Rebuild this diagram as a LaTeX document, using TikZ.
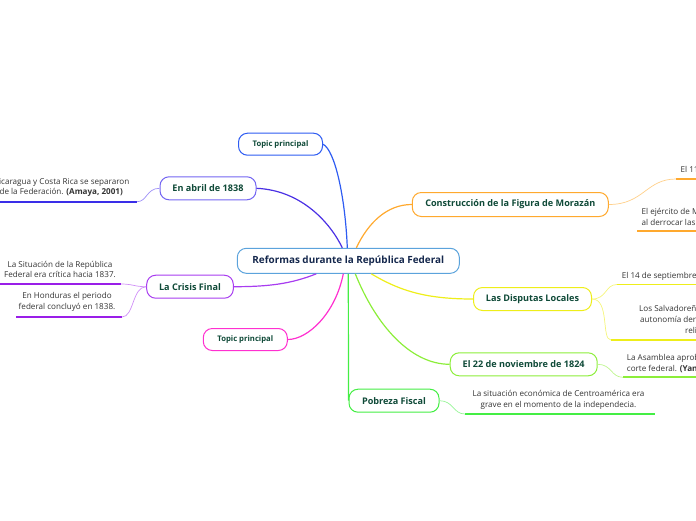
\documentclass[tikz,border=0pt]{standalone}
\usepackage{fontspec}
\setmainfont{Open Sans}
\definecolor{nodegreen}{HTML}{0F4A38}
\definecolor{navy}{HTML}{15284D}
\definecolor{txtgray}{HTML}{333333}
\definecolor{cblue}{HTML}{5BA3DC}
\definecolor{ctop}{HTML}{2E5CF2}
\definecolor{cabril}{HTML}{7466F2}
\definecolor{cabrilline}{HTML}{4A30E4}
\definecolor{cabrilu}{HTML}{3A2EE8}
\definecolor{cabrilt}{HTML}{9E90F7}
\definecolor{ccrisis}{HTML}{A83CF0}
\definecolor{ccrisisu}{HTML}{9A1EE8}
\definecolor{ccrisist}{HTML}{CF8EF7}
\definecolor{cmag}{HTML}{FF30D0}
\definecolor{corange}{HTML}{FFA92E}
\definecolor{corangel}{HTML}{FFD08A}
\definecolor{cyel}{HTML}{EEEE1A}
\definecolor{cyell}{HTML}{F5F57A}
\definecolor{clime}{HTML}{8CEE3A}
\definecolor{climl}{HTML}{BEF58E}
\definecolor{cgreen}{HTML}{44EE44}
\definecolor{cgreenl}{HTML}{96F596}
\begin{document}
\begin{tikzpicture}[x=1pt,y=-1pt,
  topic/.style={draw, rounded corners=9pt, line width=1pt, fill=white, inner sep=0pt,
    minimum height=23pt, font=\fontsize{9.1}{11}\selectfont\bfseries, text=nodegreen},
  smalltopic/.style={topic, minimum height=22pt, font=\fontsize{7.7}{9}\selectfont\bfseries},
  childtext/.style={inner sep=0pt, font=\fontsize{8.1}{10.6}\selectfont, text=txtgray},
  branch/.style={line width=1.2pt},
  twig/.style={line width=0.7pt},
  uline/.style={line width=1.8pt}
]
\useasboundingbox (0,0) rectangle (696,520);

% main nodes
\node[topic, draw=cblue, text=navy, minimum width=222pt, minimum height=25pt,
  font=\fontsize{9.9}{11}\selectfont\bfseries] (central) at (348.3,260.8) {Reformas durante la República Federal};
\node[smalltopic, draw=ctop, minimum width=84pt] (topic1) at (280.5,144.2) {Topic principal};
\node[topic, draw=cabril, minimum width=96pt] (abril) at (208,188.3) {En abril de 1838};
\node[topic, draw=ccrisis, minimum width=86.6pt] (crisis) at (190,286.7) {La Crisis Final};
\node[smalltopic, draw=cmag, minimum width=84pt] (topic2) at (245.3,339.5) {Topic principal};
\node[topic, draw=corange, minimum width=196pt, minimum height=24pt] (constr) at (510.3,204.5) {Construcción de la Figura de Morazán};
\node[topic, draw=cyel, minimum width=118pt] (disp) at (532.5,299) {Las Disputas Locales};
\node[topic, draw=clime, minimum width=147pt] (nov) at (523.7,364.3) {El 22 de noviembre de 1824};
\node[topic, draw=cgreen, minimum width=90pt] (pobreza) at (394,400.7) {Pobreza Fiscal};

% branches from the central topic
\draw[branch, ctop] (topic1.east) .. controls +(12,6) and +(-2,-50) .. ([xshift=-1pt]central.north);
\draw[branch, cabrilline] (abril.east) .. controls +(45,2) and +(-12,-25) .. ([xshift=-6pt]central.north);
\draw[branch, corange] ([xshift=8pt]central.north) .. controls +(12,-25) and +(-25,0) .. (constr.west);
\draw[branch, ccrisis] ([xshift=-32pt]central.south) .. controls +(-25,10) and +(35,0) .. (crisis.east);
\draw[branch, cmag] ([xshift=-5pt]central.south) .. controls +(-8,40) and +(20,0) .. (topic2.east);
\draw[branch, cyel] ([xshift=23pt]central.south) .. controls +(30,18) and +(-45,0) .. (disp.west);
\draw[branch, clime] ([xshift=7pt]central.south) .. controls +(20,50) and +(-40,0) .. (nov.west);
\draw[branch, cgreen] (central.south) -- (pobreza.west);

% En abril de 1838 child
\node[childtext, anchor=east, align=center] (abrilc) at (129.5,187.3)
  {Nicaragua y Costa Rica se separaron\\de la Federación. \textbf{(Amaya, 2001)}};
\coordinate (abrilu0) at (-2,201.7);
\coordinate (abrilu1) at (137,201.7);
\draw[uline, cabrilu] (abrilu0) -- (abrilu1);
\draw[twig, cabrilt] (abril.west) .. controls +(-13,0) and +(10,0) .. (abrilu1);

% La Crisis Final children
\node[childtext, align=center] (crisisc1) at (60,269.3)
  {La Situación de la República\\Federal era crítica hacia 1837.};
\node[childtext, align=center] (crisisc2) at (67,302)
  {En Honduras el periodo\\federal concluyó en 1838.};
\coordinate (cru10) at (-2,284);
\coordinate (cru11) at (121,284);
\coordinate (cru20) at (16,317);
\coordinate (cru21) at (122,317);
\draw[uline, ccrisisu] (cru10) -- (cru11);
\draw[uline, ccrisisu] (cru20) -- (cru21);
\draw[twig, ccrisist] (crisis.west) .. controls +(-12,0) and +(12,0) .. (cru11);
\draw[twig, ccrisist] (crisis.west) .. controls +(-14,0) and +(12,0) .. (cru21);

% Construcción children
\node[childtext, anchor=west] (constrc1) at (680.5,169.5)
  {El 11 de abril de 1829 Morazán tomó la ciudad de Guatemala.};
\node[childtext, anchor=west, align=left] (constrc2) at (641.5,216.7)
  {El ejército de Morazán se fortaleció\\al derrocar las autoridades conservadoras.};
\coordinate (cou10) at (676,179);
\coordinate (cou11) at (700,179);
\coordinate (cou20) at (637,231);
\coordinate (cou21) at (700,231);
\draw[uline, corange] (cou10) -- (cou11);
\draw[uline, corange] (cou20) -- (cou21);
\draw[twig, corangel] (constr.east) .. controls +(35,0) and +(-30,0) .. (cou10);

% Las Disputas Locales children
\node[childtext, anchor=west] (dispc1) at (621.7,276)
  {El 14 de septiembre de 1826 estalló la guerra civil.};
\node[childtext, anchor=west, align=left] (dispc2) at (639,320.3)
  {Los Salvadoreños buscaban la\\\hspace*{1pt}autonomía derivada de la\\\hspace*{46pt}religión.};
\coordinate (diu10) at (617,284.5);
\coordinate (diu11) at (700,284.5);
\coordinate (diu20) at (611,340);
\coordinate (diu21) at (700,340);
\draw[uline, cyel] (diu10) -- (diu11);
\draw[uline, cyel] (diu20) -- (diu21);
\draw[twig, cyell] (disp.east) .. controls +(15,0) and +(-12,0) .. (diu10);
\draw[twig, cyell] (disp.east) .. controls +(18,0) and +(-10,0) .. (diu20);

% El 22 de noviembre child
\node[childtext, anchor=west, align=left] (novc) at (626.7,363.7)
  {La Asamblea aprobó la creación de la\\corte federal. \textbf{(Yanes, 2009)}};
\coordinate (nou0) at (623,377.3);
\coordinate (nou1) at (700,377.3);
\draw[uline, clime] (nou0) -- (nou1);
\draw[twig, climl] (nov.east) .. controls +(14,0) and +(-12,0) .. (nou0);

% Pobreza Fiscal child
\node[childtext, align=center] (pobc) at (558.5,400)
  {La situación económica de Centroamérica era\\grave en el momento de la independecia.};
\coordinate (pou0) at (465,414);
\coordinate (pou1) at (655,414);
\draw[uline, cgreen] (pou0) -- (pou1);
\draw[twig, cgreenl] (pobreza.east) .. controls +(14,0) and +(-12,0) .. (pou0);
\end{tikzpicture}
\end{document}
